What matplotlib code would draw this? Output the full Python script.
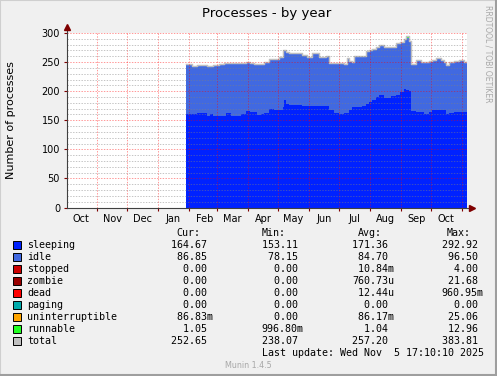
import numpy as np
import pandas as pd
import matplotlib
matplotlib.use('Agg')
import matplotlib.pyplot as plt
import matplotlib.dates as mdates
from matplotlib.patches import Rectangle

W, H = 497, 376

# daily samples (step data)
dates = ['2025-01-29', '2025-02-04', '2025-02-09', '2025-02-14', '2025-02-19', '2025-02-22',
         '2025-02-25', '2025-03-03', '2025-03-08', '2025-03-10', '2025-03-15', '2025-03-21',
         '2025-03-25', '2025-03-30', '2025-04-03', '2025-04-07', '2025-04-10', '2025-04-14',
         '2025-04-17', '2025-04-22', '2025-04-27', '2025-05-02', '2025-05-06', '2025-05-07',
         '2025-05-09', '2025-05-12', '2025-05-18', '2025-05-25', '2025-05-30', '2025-06-04',
         '2025-06-11', '2025-06-18', '2025-06-21', '2025-06-26', '2025-07-01', '2025-07-06',
         '2025-07-09', '2025-07-11', '2025-07-14', '2025-07-16', '2025-07-24', '2025-07-28',
         '2025-07-31', '2025-08-03', '2025-08-07', '2025-08-10', '2025-08-15', '2025-08-22',
         '2025-08-27', '2025-08-31', '2025-09-04', '2025-09-06', '2025-09-09', '2025-09-11',
         '2025-09-16', '2025-09-21', '2025-09-24', '2025-09-29', '2025-10-02', '2025-10-06',
         '2025-10-11', '2025-10-14', '2025-10-16', '2025-10-19', '2025-10-24', '2025-10-29',
         '2025-11-03', '2025-11-05 17:10']
sleeping = [161, 160, 163, 162, 157, 160, 157, 157, 157, 163, 158, 158,
            161, 166, 165, 164, 159, 160, 162, 169, 168, 167, 173, 184,
            178, 177, 176, 175, 175, 175, 174, 175, 167, 163, 160, 162,
            163, 168, 172, 172, 174, 178, 182, 185, 190, 193, 189, 191,
            194, 198, 204, 202, 200, 166, 165, 164, 161, 164, 167, 167,
            168, 168, 161, 163, 165, 165, 164, 165]
idle = [84, 82, 81, 82, 86, 83, 87, 88, 91, 85, 89, 89,
        87, 84, 83, 82, 86, 86, 87, 85, 87, 90, 96, 86,
        89, 87, 89, 87, 83, 89, 84, 83, 81, 84, 86, 84,
        92, 83, 78, 87, 85, 90, 88, 86, 85, 86, 86, 84,
        87, 86, 85, 90, 86, 79, 87, 84, 89, 87, 85, 89,
        84, 81, 83, 86, 86, 87, 85, 86]
runnable = [1, 1, 1, 1, 1, 1, 1, 1, 1, 1, 1, 1,
            1, 1, 1, 1, 1, 1, 1, 2, 1, 1, 1, 1,
            1, 2, 1, 1, 1, 1, 1, 2, 1, 1, 2, 1,
            2, 1, 1, 1, 1, 1, 1, 1, 1, 1, 1, 1,
            2, 1, 1, 2, 1, 1, 1, 2, 1, 1, 1, 1,
            1, 2, 1, 1, 1, 1, 2, 1]
zero = [0] * len(dates)
stopped = zero
zombie = zero
dead = zero
paging = zero
uninterruptible = zero

names = ['sleeping', 'idle', 'stopped', 'zombie', 'dead', 'paging',
         'uninterruptible', 'runnable', 'total']
colors = ['#0022ff', '#4169e1', '#cc0000', '#990000', '#ff0000', '#00aaaa',
          '#ffa500', '#22ff22', '#c0c0c0']
cur = ['164.67', '86.85', '0.00', '0.00', '0.00', '0.00', '86.83m', '1.05', '252.65']
vmin = ['153.11', '78.15', '0.00', '0.00', '0.00', '0.00', '0.00', '996.80m', '238.07']
avg = ['171.36', '84.70', '10.84m', '760.73u', '12.44u', '0.00', '86.17m', '1.04', '257.20']
vmax = ['292.92', '96.50', '4.00', '21.68', '960.95m', '0.00', '25.06', '12.96', '383.81']

BACK = '#f0f0f0'
fig = plt.figure(figsize=(W / 100, H / 100), dpi=100, facecolor=BACK)


def fx(px):
    return px / W


def fy(py):
    return 1 - py / H


# 3d-ish frame
fig.add_artist(Rectangle((0, 0), 1, 1, transform=fig.transFigure, fill=False,
                         edgecolor='#cfcfcf', lw=1.5))
fig.add_artist(plt.Line2D([fx(1), 1], [fy(H - 1), fy(H - 1)], color='#9e9e9e', lw=1.5,
                          transform=fig.transFigure))
fig.add_artist(plt.Line2D([fx(W - 1), fx(W - 1)], [0, 1], color='#9e9e9e', lw=1.5,
                          transform=fig.transFigure))

ax = fig.add_axes([fx(67), fy(207.5), 400 / W, 174.5 / H])
ax.set_facecolor('white')

x = pd.to_datetime(dates, format='mixed')
layers = [sleeping, idle, stopped, zombie, dead, paging, uninterruptible, runnable]
base = np.zeros(len(x))
for vals, c in zip(layers, colors[:8]):
    top = base + np.array(vals, dtype=float)
    ax.fill_between(x, base, top, step='post', color=c, lw=0, zorder=1)
    base = top
ax.step(x, base, where='post', color=colors[8], lw=1.05, zorder=2)

ax.set_xlim(pd.Timestamp('2024-10-01 17:10'), pd.Timestamp('2025-11-05 17:10'))
ax.set_ylim(0, 300)

# grid on top of the data, like rrdtool does
ax.set_yticks(np.arange(0, 301, 50))
ax.set_yticks(np.arange(0, 301, 10), minor=True)
ax.xaxis.set_major_locator(mdates.MonthLocator())
ax.xaxis.set_major_formatter(plt.NullFormatter())
ax.xaxis.set_minor_locator(mdates.MonthLocator(bymonthday=16))
ax.xaxis.set_minor_formatter(mdates.DateFormatter('%b'))
dots = (0, (1.4, 1.4))
ax.grid(True, which='minor', axis='y', color='#808080', alpha=0.45, lw=0.72, ls=dots, zorder=3)
ax.grid(True, which='major', axis='both', color='#ff0000', alpha=0.4, lw=0.72, ls=dots, zorder=3)
ax.set_axisbelow(False)

for s in ax.spines.values():
    s.set_visible(False)
ax.tick_params(axis='y', which='major', length=2, color='#7f0000', labelsize=7, pad=3)
ax.tick_params(axis='y', which='minor', length=0)
ax.tick_params(axis='x', which='major', length=2, color='#7f0000', labelsize=7)
ax.tick_params(axis='x', which='minor', length=0, labelsize=7, pad=5)

# axes with arrows
ax.plot([0, 0], [0, 1.03], transform=ax.transAxes, color='#404040', lw=0.8, clip_on=False, zorder=4)
ax.plot([0, 1.01], [0, 0], transform=ax.transAxes, color='#404040', lw=0.8, clip_on=False, zorder=4)
ax.plot([0], [1.035], transform=ax.transAxes, marker='^', ms=4, color='#7f0000', clip_on=False, zorder=5)
ax.plot([1.012], [0], transform=ax.transAxes, marker='>', ms=4, color='#7f0000', clip_on=False, zorder=5)

fig.text(fx(267), fy(13), 'Processes - by year', ha='center', va='center', fontsize=9.5)
fig.text(fx(11), fy(120), 'Number of processes', ha='center', va='center',
         rotation=90, fontsize=8)
fig.text(fx(488), fy(5), 'RRDTOOL / TOBI OETIKER', ha='center', va='top',
         rotation=270, fontsize=5.5, color='#a8a8a8')

# legend in monospace like munin/rrdtool
mono = dict(family='DejaVu Sans Mono', fontsize=7.2, va='center')
fig.text(fx(176), fy(233), 'Cur:', **mono)
fig.text(fx(262), fy(233), 'Min:', **mono)
fig.text(fx(358), fy(233), 'Avg:', **mono)
fig.text(fx(447), fy(233), 'Max:', **mono)
for i, n in enumerate(names):
    yy = 245 + 12 * i
    fig.add_artist(Rectangle((fx(13), fy(yy + 4)), 8 / W, 8 / H, transform=fig.transFigure,
                             facecolor=colors[i], edgecolor='black', lw=0.7))
    fig.text(fx(27), fy(yy), n, **mono)
    for col, xs in ((cur, 170.7), (vmin, 261.7), (avg, 352), (vmax, 441.7)):
        v = col[i]
        if v[-1].isdigit():
            v = v + ' '
        fig.text(fx(xs), fy(yy), v.rjust(7), **mono)
fig.text(fx(261.7), fy(353), 'Last update: Wed Nov  5 17:10:10 2025', **mono)
fig.text(fx(225), fy(365), 'Munin 1.4.5', ha='left', va='center', fontsize=5.8, color='#a8a8a8')

fig.savefig('out.png', dpi=100, facecolor=BACK)
